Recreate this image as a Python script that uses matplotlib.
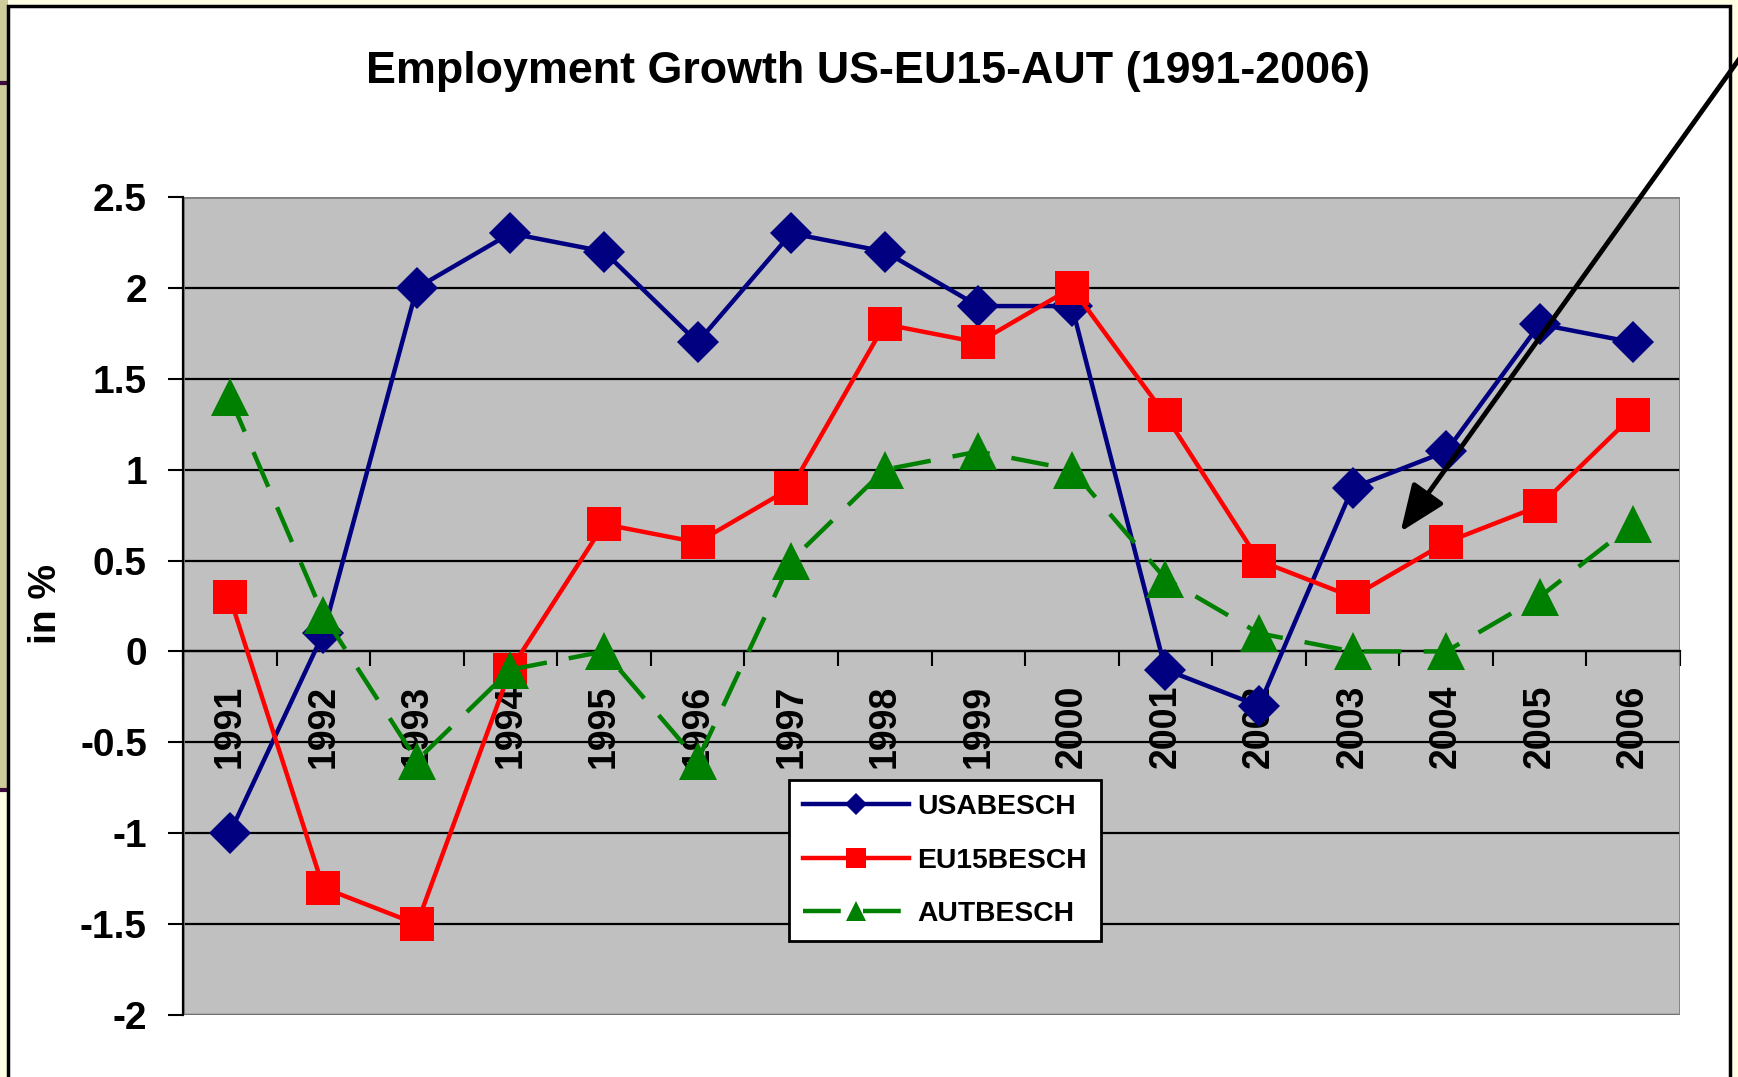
import numpy as np
import matplotlib
matplotlib.use('Agg')
import matplotlib.pyplot as plt
from matplotlib.patches import Rectangle, FancyArrowPatch
from matplotlib.lines import Line2D

plt.rcParams['font.family'] = ['Liberation Sans', 'DejaVu Sans']
plt.rcParams['font.weight'] = 'bold'

# Daten (Beschaeftigungswachstum in %)
jahre = ['1991', '1992', '1993', '1994', '1995', '1996', '1997', '1998',
         '1999', '2000', '2001', '2002', '2003', '2004', '2005', '2006']
usa = [-1.0, 0.1, 2.0, 2.3, 2.2, 1.7, 2.3, 2.2, 1.9, 1.9, -0.1, -0.3, 0.9, 1.1, 1.8, 1.7]
eu15 = [0.3, -1.3, -1.5, -0.1, 0.7, 0.6, 0.9, 1.8, 1.7, 2.0, 1.3, 0.5, 0.3, 0.6, 0.8, 1.3]
aut = [1.4, 0.2, -0.6, -0.1, 0.0, -0.6, 0.5, 1.0, 1.1, 1.0, 0.4, 0.1, 0.0, 0.0, 0.3, 0.7]
y_ticks = [-2, -1.5, -1, -0.5, 0, 0.5, 1, 1.5, 2, 2.5]
y_labels = ['-2', '-1.5', '-1', '-0.5', '0', '0.5', '1', '1.5', '2', '2.5']

W, H = 1738, 1077
fig = plt.figure(figsize=(W / 100, H / 100), dpi=100)
fig.patch.set_facecolor('#FFFFE6')


def fx(px):
    return px / W


def fy(py):
    # Pixel von oben -> Figure-Anteil von unten
    return 1 - py / H


# Hintergrund der Folie (Rand links, Linien)
fig.add_artist(Rectangle((0, fy(790)), fx(8), 790 / H, transform=fig.transFigure,
                         facecolor='#CFCC9B', edgecolor='none', zorder=-3))
for yy in [83, 790]:
    fig.add_artist(Line2D([0, fx(9)], [fy(yy), fy(yy)], transform=fig.transFigure,
                          color='#3C0A3C', lw=3, zorder=-2))
# weisser Diagrammbereich
fig.add_artist(Rectangle((fx(8), -0.02), fx(1730 - 8), (1077 - 6) / H + 0.02,
                         transform=fig.transFigure, facecolor='white',
                         edgecolor='black', lw=2.5, zorder=-1))

ax = fig.add_axes([fx(183), fy(1015), fx(1680 - 183), (1015 - 197) / H])
ax.set_facecolor('#C0C0C0')

x = np.arange(len(jahre))
ax.plot(x, usa, color='#000080', lw=3.2, marker='D', markersize=21,
        markeredgewidth=0, label='USABESCH', zorder=3)
ax.plot(x, eu15, color='#FF0000', lw=3.2, marker='s', markersize=25,
        markeredgewidth=0, label='EU15BESCH', zorder=4)
ax.plot(x, aut, color='#008000', lw=3.2, marker='^', markersize=27,
        markeredgewidth=0, linestyle=(0, (8.5, 5)), label='AUTBESCH', zorder=5)

ax.set_xlim(-0.5, len(jahre) - 0.5)
ax.set_ylim(-2, 2.5)

# Gitterlinien
ax.set_axisbelow(True)
ax.set_yticks(y_ticks)
ax.set_yticklabels(y_labels, fontsize=28, fontweight='bold')
ax.yaxis.grid(True, color='black', lw=1.6)
ax.add_patch(Rectangle((0, 0), 1, 1, transform=ax.transAxes, fill=False,
                       edgecolor='#808080', lw=2, zorder=1))

for s in ['top', 'right']:
    ax.spines[s].set_visible(False)
ax.spines['left'].set_color('black')
ax.spines['left'].set_linewidth(1.6)
ax.spines['bottom'].set_position(('data', 0))
ax.spines['bottom'].set_color('black')
ax.spines['bottom'].set_linewidth(1.6)

ax.tick_params(axis='y', direction='out', length=11, width=1.5, pad=15)
ax.set_xticks(x)
ax.set_xticks(np.arange(-0.5, len(jahre), 1), minor=True)
ax.set_xticklabels(jahre, rotation=90, fontsize=27, fontweight='bold', va='top')
ax.tick_params(axis='x', which='major', length=0, pad=24)
ax.tick_params(axis='x', which='minor', direction='out', length=11, width=1.5)

fig.text(fx(868), fy(72), 'Employment Growth US-EU15-AUT (1991-2006)',
         ha='center', va='center', fontsize=32.3, fontweight='bold')
fig.text(fx(46), fy(604), 'in %', rotation=90, ha='center', va='center',
         fontsize=28, fontweight='bold')

leg = ax.legend(loc='upper left', bbox_to_anchor=(fx(789), fy(780)),
                bbox_transform=fig.transFigure, fontsize=20.3, frameon=True,
                fancybox=False, shadow=False, markerscale=0.55, borderpad=0.5,
                labelspacing=0.98, handlelength=3.75, handletextpad=0.3,
                borderaxespad=0)
leg.get_frame().set_edgecolor('black')
leg.get_frame().set_linewidth(2)
leg.get_frame().set_facecolor('white')
leg.get_frame().set_alpha(1)
for t in leg.get_texts():
    t.set_fontweight('bold')
leg.set_zorder(10)

# schwarzer Pfeil
fig.add_artist(FancyArrowPatch(
    (fx(1755), fy(37)), (fx(1399), fy(534)), transform=fig.transFigure,
    arrowstyle='-|>,head_length=1.1,head_width=0.45', mutation_scale=26,
    color='black', lw=3.5, zorder=20))

fig.savefig('out.png', dpi=100, facecolor=fig.get_facecolor())
